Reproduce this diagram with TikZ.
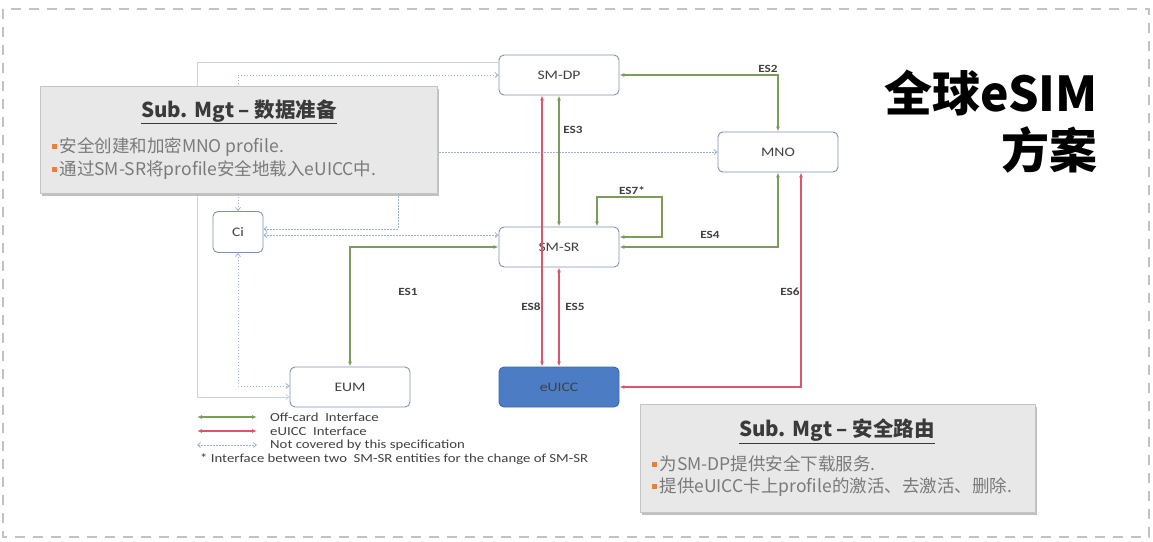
\documentclass[tikz,border=0pt]{standalone}
\usepackage{fontspec}
\setmainfont{Carlito}
\newfontfamily\widecal[FakeStretch=1.2]{Carlito}
\newfontfamily\cjk{Noto Sans CJK SC}
\usetikzlibrary{arrows.meta,shadows}
\definecolor{boxc}{HTML}{7F93B5}
\definecolor{grn}{HTML}{7C9C5C}
\definecolor{rd}{HTML}{D9566C}
\definecolor{dotc}{HTML}{9DB0CF}
\definecolor{thinc}{HTML}{C9D3E3}
\definecolor{euf}{HTML}{4C7DC4}
\definecolor{eub}{HTML}{3D69A6}
\definecolor{gfill}{HTML}{E8E8E8}
\definecolor{gdraw}{HTML}{C4C4C4}
\definecolor{orb}{HTML}{E8803A}
\definecolor{btxt}{HTML}{7A7A7A}
\definecolor{ttxt}{HTML}{3A3A3A}
\definecolor{etxt}{HTML}{404040}
\definecolor{frame}{HTML}{C2C2C2}
\newcommand\bulsq{{\color{orb}\rule[0.2em]{0.3em}{0.3em}}\hspace{0.12em}}
\tikzset{
  ent/.style={draw=boxc, rounded corners=5pt, line width=0.9pt, fill=white,
    minimum width=120pt, minimum height=40pt, inner sep=0pt,
    font=\widecal\fontsize{13}{15}\selectfont, text=etxt},
  garr/.style={draw=grn, line width=1.3pt, {Latex[length=5pt,width=4pt]}-{Latex[length=5pt,width=4pt]}},
  rarr/.style={draw=rd, line width=1.3pt, {Latex[length=5pt,width=4pt]}-{Latex[length=5pt,width=4pt]}},
  darr/.style={draw=dotc, line width=0.8pt, dash pattern=on 1.5pt off 1.5pt, {Straight Barb[length=3pt,width=5pt]}-{Straight Barb[length=3pt,width=5pt]}},
  thinarr/.style={draw=thinc, line width=0.8pt, -{Straight Barb[length=3pt,width=5pt]}},
  lab/.style={font=\widecal\bfseries\fontsize{11}{12}\selectfont, text=etxt, inner sep=1pt},
  gbox/.style={draw=gdraw, fill=gfill, line width=0.8pt, anchor=north west,
    drop shadow={shadow xshift=2pt, shadow yshift=-3pt, fill=black!35, opacity=0.7}},
  gtitle/.style={font=\cjk\bfseries\fontsize{20.5}{23}\selectfont, text=ttxt},
  gbul/.style={font=\cjk\fontsize{17.5}{20}\selectfont, text=btxt, anchor=west, inner sep=0pt},
  legt/.style={font=\widecal\fontsize{12.3}{14}\selectfont, text=etxt, anchor=west, inner sep=0pt},
  bigt/.style={font=\cjk\bfseries\fontsize{48}{52}\selectfont, text=black, anchor=east, inner sep=0pt}
}
\begin{document}
\begin{tikzpicture}[x=1pt,y=-1pt]
\useasboundingbox (0,0) rectangle (1153,541);
\fill[white] (0,0) rectangle (1153,541);
\draw[frame, line width=1.3pt, dash pattern=on 10pt off 8pt] (3,9) rectangle (1149,537);

% entities
\node[ent] (smdp) at (559,75) {SM-DP};
\node[ent] (mno) at (778,152) {MNO};
\node[ent] (smsr) at (559,247) {SM-SR};
\node[ent, minimum width=50pt, minimum height=41pt] (ci) at (238,232) {Ci};
\node[ent] (eum) at (350,387) {EUM};
\node[ent, fill=euf, draw=eub, text=etxt] (eu) at (559,387) {eUICC};

% helper coordinates
\coordinate (t1) at (197,62);
\coordinate (c1) at (398,152);
\coordinate (l7) at (662,197);

% not covered (dotted) interfaces
\draw[thinarr] ([yshift=13pt]smdp.west) -- (t1) |- ([yshift=-10pt]eum.west);
\draw[darr] (ci.north) |- (smdp.west);
\draw[darr] ([yshift=3pt]ci.east) -| (c1) -- (mno.west);
\draw[darr] ([yshift=-3pt]ci.east) -- ([yshift=-3pt]ci.east -| smsr.west);
\draw[darr] (ci.south) |- ([yshift=1pt]eum.west);

% off-card interfaces
\draw[garr] (mno.north) |- (smdp.east);
\draw[garr] (smdp.south) -- (smsr.north);
\draw[garr] ([yshift=10pt]smsr.east) -| (l7) -| ([xshift=38pt]smsr.north);
\draw[garr] (smsr.east) -| (mno.south);
\draw[garr] (smsr.west) -| (eum.north);

% eUICC interfaces
\draw[rarr] ([xshift=-17pt]smdp.south) -- ([xshift=-17pt]eu.north);
\draw[rarr] (smsr.south) -- (eu.north);
\draw[rarr] (eu.east) -| ([xshift=23pt]mno.south);

% labels
\node[lab] (es2) at (768,69) {ES2};
\node[lab] (es3) at (573,130) {ES3};
\node[lab] (es7) at (632,191) {ES7*};
\node[lab] (es4) at (710,235) {ES4};
\node[lab] (es1) at (408,292) {ES1};
\node[lab] (es8) at (531,307) {ES8};
\node[lab] (es5) at (575,307) {ES5};
\node[lab] (es6) at (790,292) {ES6};

% left info box
\node[gbox, minimum width=397pt, minimum height=107pt] (lbox) at (40,86) {};
\node[gtitle] (ltit) at (239,112) {\underline{Sub. Mgt – 数据准备}};
\node[gbul] (lb1) at (52,147) {\bulsq 安全创建和加密MNO profile.};
\node[gbul] (lb2) at (52,170) {\bulsq 通过SM-SR将profile安全地载入eUICC中.};

% right info box
\node[gbox, minimum width=395pt, minimum height=108pt] (rbox) at (640,404) {};
\node[gtitle] (rtit) at (837,431) {\underline{Sub. Mgt – 安全路由}};
\node[gbul] (rb1) at (652,464) {\bulsq 为SM-DP提供安全下载服务.};
\node[gbul] (rb2) at (652,487) {\bulsq 提供eUICC卡上profile的激活、去激活、删除.};

% title
\node[bigt] (tt1) at (1098,93) {全球eSIM};
\node[bigt] (tt2) at (1098,150) {方案};

% legend
\coordinate (g1a) at (197,417); \coordinate (g1b) at (257,417);
\coordinate (g2a) at (197,431); \coordinate (g2b) at (257,431);
\coordinate (g3a) at (197,445); \coordinate (g3b) at (257,445);
\draw[garr] (g1a) -- (g1b);
\draw[rarr] (g2a) -- (g2b);
\draw[darr] (g3a) -- (g3b);
\node[legt] (lg1) at (270,417) {Off-card\ \ Interface};
\node[legt] (lg2) at (270,431) {eUICC\ \ Interface};
\node[legt] (lg3) at (270,445) {Not covered by this specification};
\node[legt] (lg4) at (200,459) {* Interface between two\ \ SM-SR entities for the change of SM-SR};
\end{tikzpicture}
\end{document}
